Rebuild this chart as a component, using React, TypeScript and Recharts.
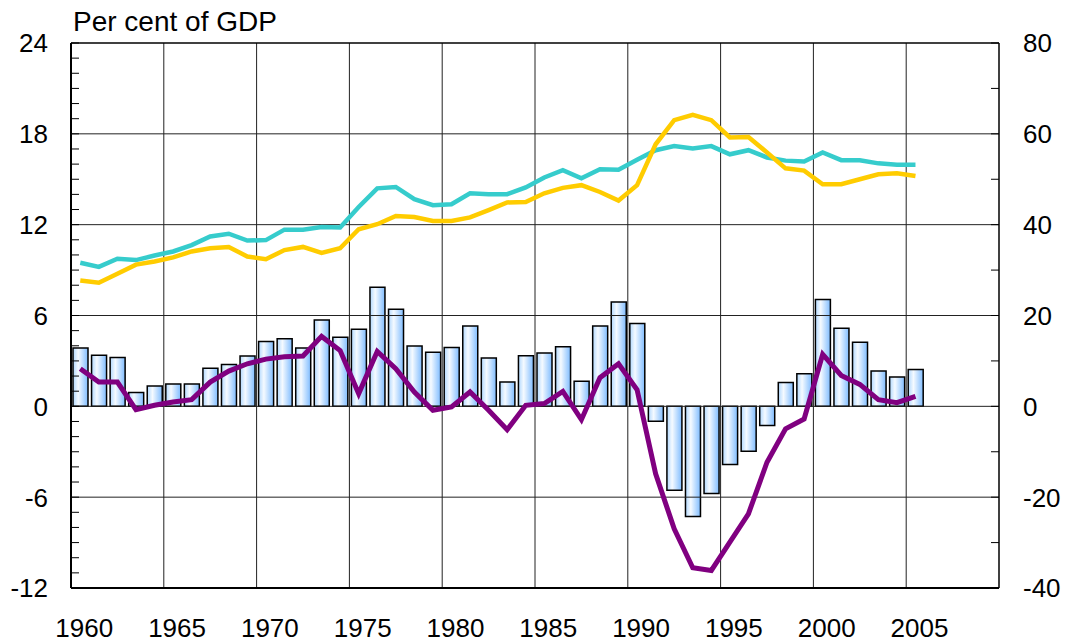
import React from "react";
import {
  ComposedChart,
  Bar,
  Line,
  XAxis,
  YAxis,
  ReferenceLine,
} from "recharts";

const years = [
  1960, 1961, 1962, 1963, 1964, 1965, 1966, 1967, 1968, 1969,
  1970, 1971, 1972, 1973, 1974, 1975, 1976, 1977, 1978, 1979,
  1980, 1981, 1982, 1983, 1984, 1985, 1986, 1987, 1988, 1989,
  1990, 1991, 1992, 1993, 1994, 1995, 1996, 1997, 1998, 1999,
  2000, 2001, 2002, 2003, 2004, 2005,
];

// left axis, per cent of GDP
const bars = [
  3.85, 3.38, 3.23, 0.92, 1.34, 1.47, 1.47, 2.51, 2.77, 3.32,
  4.29, 4.46, 3.85, 5.71, 4.57, 5.1, 7.87, 6.42, 3.98, 3.58,
  3.89, 5.3, 3.19, 1.6, 3.34, 3.52, 3.93, 1.65, 5.3, 6.9,
  5.47, -0.99, -5.54, -7.27, -5.76, -3.85, -2.97, -1.27, 1.58, 2.15,
  7.05, 5.16, 4.24, 2.33, 1.93, 2.44,
];

const purple = [
  2.48, 1.6, 1.6, -0.22, 0.07, 0.29, 0.44, 1.6, 2.33, 2.81,
  3.12, 3.27, 3.32, 4.62, 3.69, 0.84, 3.63, 2.48, 0.95, -0.26,
  -0.04, 0.95, -0.26, -1.54, 0.07, 0.18, 0.99, -0.88, 1.89, 2.81,
  1.1, -4.46, -8.09, -10.66, -10.84, -8.97, -7.1, -3.69, -1.49, -0.84,
  3.43, 2.04, 1.45, 0.44, 0.24, 0.66,
];

// right axis
const teal = [
  31.6, 30.7, 32.5, 32.2, 33.2, 34.1, 35.5, 37.4, 38.0, 36.5,
  36.6, 38.9, 38.9, 39.5, 39.4, 43.9, 48.0, 48.3, 45.6, 44.3,
  44.5, 46.9, 46.7, 46.7, 48.2, 50.4, 52.0, 50.2, 52.2, 52.1,
  54.3, 56.4, 57.3, 56.8, 57.3, 55.5, 56.4, 54.8, 54.1, 53.9,
  55.9, 54.2, 54.2, 53.5, 53.2, 53.2,
];

const yellow = [
  27.7, 27.2, 29.2, 31.2, 31.9, 32.8, 34.1, 34.8, 35.1, 33.0,
  32.4, 34.4, 35.1, 33.8, 34.8, 39.0, 40.1, 41.9, 41.7, 40.8,
  40.8, 41.6, 43.2, 44.9, 45.0, 46.9, 48.1, 48.7, 47.2, 45.3,
  48.7, 57.7, 63.0, 64.2, 63.0, 59.2, 59.3, 55.9, 52.4, 51.9,
  48.9, 48.9, 50.0, 51.1, 51.3, 50.7,
];

const xLabels = [1960, 1965, 1970, 1975, 1980, 1985, 1990, 1995, 2000, 2005];
const xGrid = [1965, 1970, 1975, 1980, 1985, 1990, 1995, 2000, 2005];
const leftTicks = Array.from({ length: 37 }, (_, i) => i - 12);
const leftGrid = [-6, 0, 6, 12, 18];
const rightTicks = [-40, -30, -20, -10, 0, 10, 20, 30, 40, 50, 60, 70, 80];

const data = years.map((y, i) => ({
  x: y + 0.5,
  bar: bars[i],
  purple: purple[i],
  teal: teal[i],
  yellow: yellow[i],
}));

const FONT = "'Liberation Sans', Arial, sans-serif";

const LeftTick = (props: any) => {
  const { x, y, payload } = props;
  const v = payload.value;
  return (
    <g>
      <line x1={x} x2={x + 8} y1={y} y2={y} stroke="#000" strokeWidth={1} />
      {v % 6 === 0 && (
        <text x={x - 23} y={y} dy="0.36em" textAnchor="end" fontSize={26} fontFamily={FONT} fill="#000">
          {v}
        </text>
      )}
    </g>
  );
};

const RightTick = (props: any) => {
  const { x, y, payload } = props;
  const v = payload.value;
  return (
    <g>
      <line x1={x} x2={x - 8} y1={y} y2={y} stroke="#000" strokeWidth={1} />
      {v % 20 === 0 && (
        <text x={x + 24} y={y} dy="0.36em" textAnchor="start" fontSize={26} fontFamily={FONT} fill="#000">
          {v}
        </text>
      )}
    </g>
  );
};

const BottomTick = (props: any) => {
  const { x, y, payload } = props;
  return (
    <text x={x + 4} y={y} dy="0.71em" textAnchor="middle" fontSize={26} fontFamily={FONT} fill="#000">
      {Math.floor(payload.value)}
    </text>
  );
};

export default function App() {
  return (
    <div style={{ position: "absolute", left: 0, top: 0, width: 1069, height: 643, background: "#fff" }}>
      <div
        style={{
          position: "absolute",
          left: 73,
          top: 8,
          fontFamily: FONT,
          fontSize: 28,
          lineHeight: "28px",
          color: "#000",
        }}
      >
        Per cent of GDP
      </div>
      <ComposedChart
        width={1069}
        height={643}
        data={data}
        margin={{ top: 43, right: 0, left: 0, bottom: 0 }}
      >
        <defs>
          <linearGradient id="barFill" x1="0" y1="0" x2="1" y2="0">
            <stop offset="0%" stopColor="#b0d8ff" />
            <stop offset="35%" stopColor="#f5faff" />
            <stop offset="100%" stopColor="#7fbcff" />
          </linearGradient>
        </defs>
        <XAxis
          dataKey="x"
          type="number"
          domain={[1960, 2010]}
          ticks={xLabels.map((y) => y + 0.5)}
          allowDataOverflow
          height={55}
          tickSize={0}
          tickMargin={31}
          axisLine={{ stroke: "#000", strokeWidth: 2 }}
          tickLine={false}
          tick={BottomTick}
          interval={0}
        />
        <YAxis
          yAxisId="left"
          orientation="left"
          domain={[-12, 24]}
          ticks={leftTicks}
          interval={0}
          width={71}
          tickSize={0}
          tickMargin={0}
          axisLine={{ stroke: "#000", strokeWidth: 2 }}
          tickLine={false}
          tick={LeftTick}
        />
        <YAxis
          yAxisId="right"
          orientation="right"
          domain={[-40, 80]}
          ticks={rightTicks}
          interval={0}
          width={70}
          tickSize={0}
          tickMargin={0}
          axisLine={{ stroke: "#000", strokeWidth: 1.5 }}
          tickLine={false}
          tick={RightTick}
        />
        {leftGrid.map((v) => (
          <ReferenceLine key={"h" + v} yAxisId="left" y={v} stroke="#222" strokeWidth={1} />
        ))}
        {xGrid.map((v) => (
          <ReferenceLine key={"v" + v} yAxisId="left" x={v} stroke="#222" strokeWidth={1} />
        ))}
        <ReferenceLine yAxisId="left" y={24} stroke="#000" strokeWidth={1.5} />
        <Bar
          yAxisId="left"
          dataKey="bar"
          barSize={15}
          fill="url(#barFill)"
          stroke="#000"
          strokeWidth={1.5}
          isAnimationActive={false}
        />
        <Line
          yAxisId="left"
          dataKey="purple"
          stroke="#800080"
          strokeWidth={5}
          dot={false}
          type="linear"
          isAnimationActive={false}
        />
        <Line
          yAxisId="right"
          dataKey="teal"
          stroke="#36CCCC"
          strokeWidth={4.5}
          dot={false}
          type="linear"
          isAnimationActive={false}
        />
        <Line
          yAxisId="right"
          dataKey="yellow"
          stroke="#FFCC00"
          strokeWidth={4.5}
          dot={false}
          type="linear"
          isAnimationActive={false}
        />
      </ComposedChart>
    </div>
  );
}
